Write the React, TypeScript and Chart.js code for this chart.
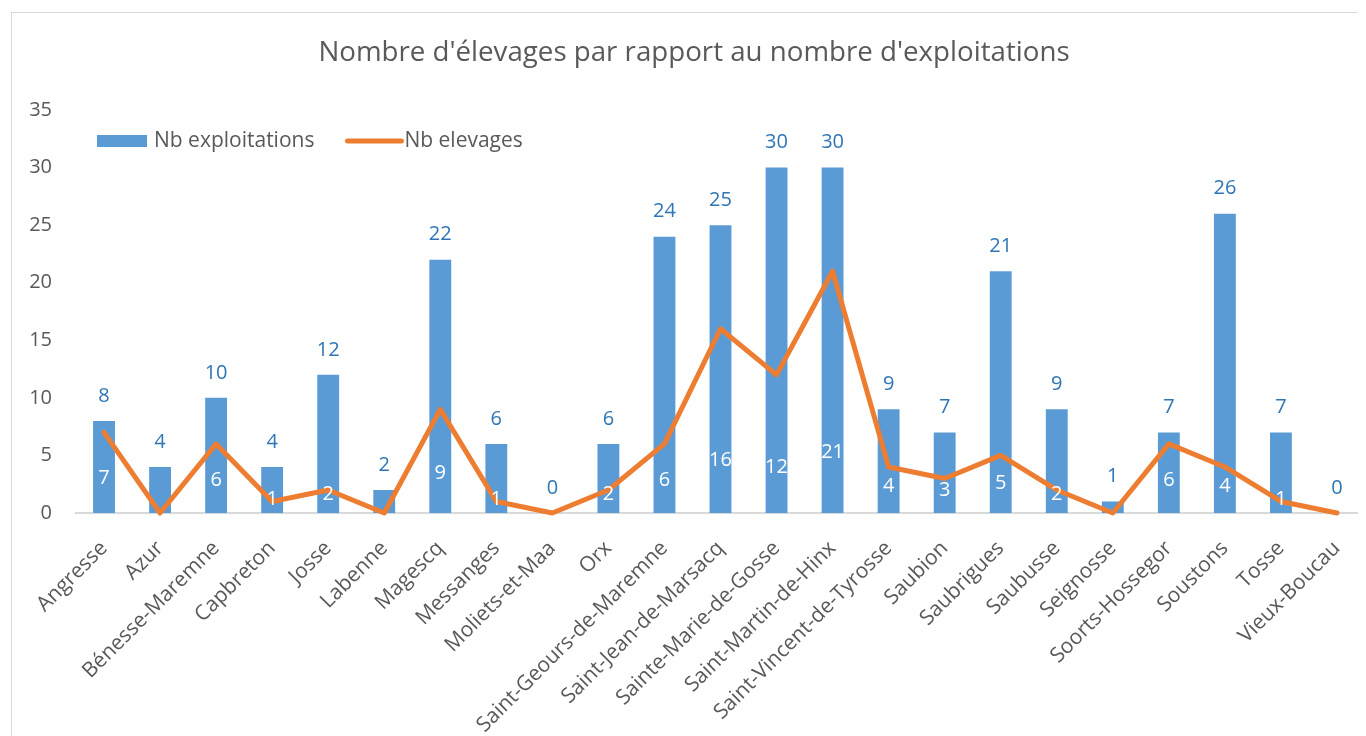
import React, { useEffect, useRef } from "react";
import { Chart, registerables } from "chart.js";

Chart.register(...registerables);

const TITLE = "Nombre d'élevages par rapport au nombre d'exploitations";
const SERIES_BARS = "Nb exploitations";
const SERIES_LINE = "Nb elevages";

const communes = [
  "Angresse",
  "Azur",
  "Bénesse-Maremne",
  "Capbreton",
  "Josse",
  "Labenne",
  "Magescq",
  "Messanges",
  "Moliets-et-Maa",
  "Orx",
  "Saint-Geours-de-Maremne",
  "Saint-Jean-de-Marsacq",
  "Sainte-Marie-de-Gosse",
  "Saint-Martin-de-Hinx",
  "Saint-Vincent-de-Tyrosse",
  "Saubion",
  "Saubrigues",
  "Saubusse",
  "Seignosse",
  "Soorts-Hossegor",
  "Soustons",
  "Tosse",
  "Vieux-Boucau",
];

const nbExploitations = [8, 4, 10, 4, 12, 2, 22, 6, 0, 6, 24, 25, 30, 30, 9, 7, 21, 9, 1, 7, 26, 7, 0];
const nbElevages = [7, 0, 6, 1, 2, 0, 9, 1, 0, 2, 6, 16, 12, 21, 4, 3, 5, 2, 0, 6, 4, 1, 0];

const Y_MIN = 0;
const Y_MAX = 35;
const Y_STEP = 5;

const FONT = "'Open Sans', sans-serif";
const GREY = "#595959";
const BAR_BLUE = "#5B9BD5";
const ORANGE = "#ED7D31";
const LABEL_BLUE = "#2E75B6";

const CANVAS_W = 1356;
const CANVAS_H = 724;

const titlePlugin = {
  id: "titleText",
  afterDraw(chart: any) {
    const { ctx } = chart;
    ctx.save();
    ctx.font = `27.7px ${FONT}`;
    ctx.fillStyle = GREY;
    ctx.textAlign = "center";
    ctx.textBaseline = "middle";
    ctx.fillText(TITLE, chart.width / 2 + 4, 40);
    ctx.restore();
  },
};

const valueLabels = {
  id: "valueLabels",
  afterDatasetsDraw(chart: any) {
    const { ctx } = chart;
    const y = chart.scales.y;
    const barMeta = chart.getDatasetMeta(0);
    const lineMeta = chart.getDatasetMeta(1);
    ctx.save();
    ctx.font = `20px ${FONT}`;
    ctx.textAlign = "center";
    ctx.textBaseline = "middle";
    ctx.fillStyle = LABEL_BLUE;
    barMeta.data.forEach((bar: any, i: number) => {
      ctx.fillText(String(nbExploitations[i]), bar.x, bar.y - 25);
    });
    ctx.fillStyle = "#ffffff";
    lineMeta.data.forEach((pt: any, i: number) => {
      const v = nbElevages[i];
      if (!v) return;
      ctx.fillText(String(v), pt.x, y.getPixelForValue(1.15 * Math.sqrt(v)));
    });
    ctx.restore();
  },
};

const customLegend = {
  id: "customLegend",
  afterDraw(chart: any) {
    const { ctx, chartArea } = chart;
    const cy = chartArea.top + 31;
    ctx.save();
    ctx.font = `21px ${FONT}`;
    ctx.textBaseline = "middle";
    ctx.textAlign = "left";
    let x = chartArea.left + 21;
    ctx.fillStyle = BAR_BLUE;
    ctx.fillRect(x, cy - 6, 50, 12);
    x += 57;
    ctx.fillStyle = GREY;
    ctx.fillText(SERIES_BARS, x, cy);
    x += ctx.measureText(SERIES_BARS).width + 33;
    ctx.strokeStyle = ORANGE;
    ctx.lineWidth = 5;
    ctx.lineCap = "round";
    ctx.beginPath();
    ctx.moveTo(x, cy);
    ctx.lineTo(x + 54, cy);
    ctx.stroke();
    x += 57;
    ctx.fillStyle = GREY;
    ctx.fillText(SERIES_LINE, x, cy);
    ctx.restore();
  },
};

export default function App() {
  const canvasRef = useRef<HTMLCanvasElement | null>(null);

  useEffect(() => {
    document.documentElement.style.overflow = "hidden";
    document.body.style.overflow = "hidden";
    const canvas = canvasRef.current;
    if (!canvas) return;
    const chart = new Chart(canvas, {
      type: "bar",
      data: {
        labels: communes,
        datasets: [
          {
            type: "bar",
            label: SERIES_BARS,
            data: nbExploitations,
            backgroundColor: BAR_BLUE,
            barPercentage: 0.39,
            categoryPercentage: 1,
            order: 1,
          },
          {
            type: "line",
            label: SERIES_LINE,
            data: nbElevages,
            borderColor: ORANGE,
            backgroundColor: ORANGE,
            borderWidth: 5,
            pointRadius: 0,
            tension: 0,
            borderJoinStyle: "round",
            borderCapStyle: "round",
            clip: false,
            order: 0,
          } as any,
        ],
      },
      options: {
        responsive: false,
        animation: false,
        devicePixelRatio: 1,
        layout: { padding: { left: 0, right: 3, top: 97, bottom: 0 } },
        plugins: {
          legend: { display: false },
          tooltip: { enabled: false },
          title: { display: false },
        },
        scales: {
          x: {
            grid: { display: false, drawTicks: false },
            border: { display: true, color: "#d9d9d9", width: 2 },
            ticks: {
              color: GREY,
              font: { family: FONT, size: 21 },
              minRotation: 45,
              maxRotation: 45,
              autoSkip: false,
              padding: 23,
            },
            afterFit: (s: any) => {
              s.height = 224;
              s.paddingLeft = 0;
              s.paddingRight = 0;
            },
          },
          y: {
            min: Y_MIN,
            max: Y_MAX,
            grid: { display: false, drawTicks: false },
            border: { display: false },
            ticks: {
              stepSize: Y_STEP,
              color: GREY,
              font: { family: FONT, size: 20 },
              padding: 24,
            },
            afterFit: (s: any) => {
              s.width = 64;
              s.paddingTop = 0;
              s.paddingBottom = 0;
            },
          },
        },
      },
      plugins: [titlePlugin, valueLabels, customLegend],
    });
    return () => chart.destroy();
  }, []);

  return (
    <div style={{ paddingTop: 4, paddingLeft: 3 }}>
      <div
        style={{
          width: CANVAS_W,
          height: CANVAS_H + 10,
          border: "1px solid #d9d9d9",
          background: "#ffffff",
        }}
      >
        <canvas
          ref={canvasRef}
          width={CANVAS_W}
          height={CANVAS_H}
          style={{ display: "block", width: CANVAS_W, height: CANVAS_H }}
        />
      </div>
    </div>
  );
}
